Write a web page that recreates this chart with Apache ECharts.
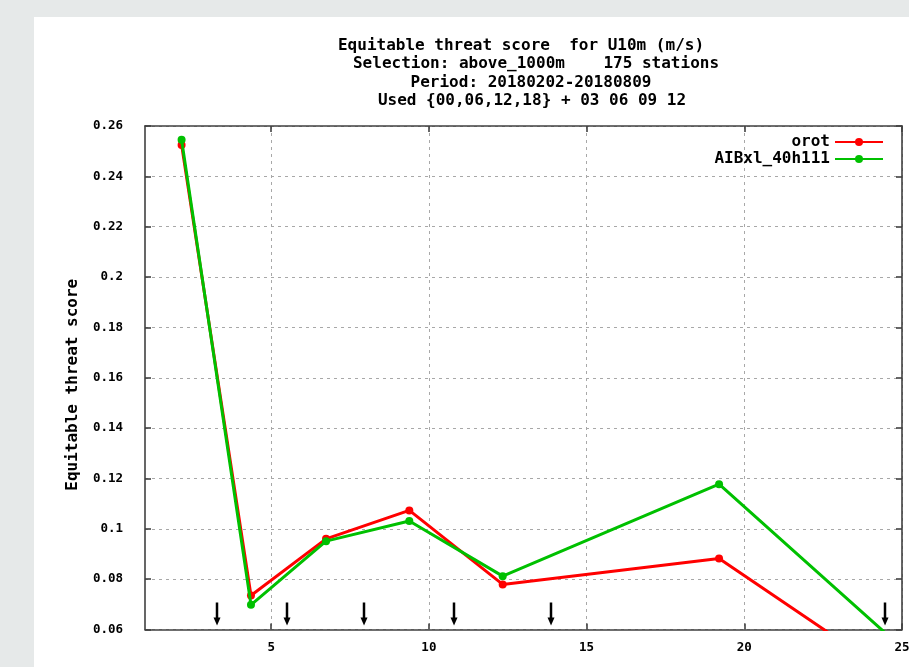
<!DOCTYPE html>
<html>
<head>
<meta charset="utf-8">
<script src="https://cdn.jsdelivr.net/npm/echarts@6/dist/echarts.min.js"></script>
<style>
html,body{margin:0;padding:0;background:#e6e9e9;}
#main{width:909px;height:667px;}
</style>
</head>
<body>
<div id="main"></div>
<script>
// ---- data ----
const titleLines = [
  'Equitable threat score  for U10m (m/s)',
  'Selection: above_1000m    175 stations',
  'Period: 20180202-20180809',
  'Used {00,06,12,18} + 03 06 09 12'
];
const yAxisName = 'Equitable threat score';
const seriesNames = ['orot', 'AIBxl_40h111'];
const xValues = [2.16, 4.36, 6.74, 9.38, 12.34, 19.2, 27];
const orotValues = [0.2525, 0.0735, 0.0960, 0.1073, 0.0779, 0.0882, 0.022];
const aibValues  = [0.2545, 0.0698, 0.0951, 0.1031, 0.0812, 0.1177, 0.0303];
const arrowX = [3.27, 5.49, 7.95, 10.80, 13.87, 24.46];
const xTicks = [5, 10, 15, 20, 25];
const xMin = 1, xMax = 25;
const yMin = 0.06, yMax = 0.26, yStep = 0.02;

// ---- styles ----
const FONT = "'DejaVu Sans Mono', 'Liberation Mono', monospace";
const axisColor = '#404040';
const gridColor = '#a8a8a8';
const colors = ['#ff0000', '#00c000'];
const titleX = [521, 536, 531, 532];
const titleY = [45.5, 64, 82.5, 101];

const chart = echarts.init(document.getElementById('main'), null, {renderer: 'canvas'});

function pairs(xs, ys) { return xs.map((x, i) => [x, ys[i]]); }

const graphicEls = [
  {type: 'rect', shape: {x: 34, y: 17, width: 875, height: 650}, style: {fill: '#ffffff'}, z: -100, silent: true}
];
titleLines.forEach((t, i) => {
  graphicEls.push({
    type: 'text', x: titleX[i], y: titleY[i], silent: true,
    style: {text: t, align: 'center', verticalAlign: 'middle',
            font: 'bold 16px ' + FONT, fill: '#000'}
  });
});

const tickStyle = {color: axisColor, width: 1.6};
const legendText = {fontFamily: FONT, fontWeight: 'bold', fontSize: 16, color: '#000'};
const labelFont = {fontFamily: FONT, fontWeight: 'bold', fontSize: 12.5, color: '#000'};

const option = {
  animation: false,
  backgroundColor: '#e6e9e9',
  graphic: {elements: graphicEls},
  grid: {left: 145, top: 126, right: 7, bottom: 37.5, containLabel: false, outerBoundsMode: 'none'},
  legend: [
    {data: [seriesNames[0]], right: 25, top: 134, orient: 'vertical', align: 'right',
     itemWidth: 48, itemHeight: 10, padding: 0, selectedMode: false, textStyle: legendText},
    {data: [seriesNames[1]], right: 25, top: 151, orient: 'vertical', align: 'right',
     itemWidth: 48, itemHeight: 10, padding: 0, selectedMode: false, textStyle: legendText}
  ],
  xAxis: [
    {
      type: 'value', min: xMin, max: xMax, position: 'bottom',
      axisLine: {show: true, onZero: false, lineStyle: tickStyle},
      axisTick: {show: true, inside: true, length: 6, customValues: xTicks, lineStyle: tickStyle},
      axisLabel: Object.assign({customValues: xTicks, margin: 12, hideOverlap: false}, labelFont),
      splitLine: {show: true, lineStyle: {type: [3, 4], color: gridColor, width: 1}}
    },
    {
      type: 'value', min: xMin, max: xMax, position: 'top',
      axisLine: {show: true, onZero: false, lineStyle: tickStyle},
      axisTick: {show: true, inside: true, length: 6, customValues: xTicks, lineStyle: tickStyle},
      axisLabel: {show: false},
      splitLine: {show: false}
    }
  ],
  yAxis: [
    {
      type: 'value', min: yMin, max: yMax, interval: yStep, position: 'left',
      name: yAxisName, nameLocation: 'middle', nameGap: 64,
      nameTextStyle: {fontFamily: FONT, fontWeight: 'bold', fontSize: 16, color: '#000',
                      padding: [0, 14, 0, 0]},
      axisLine: {show: true, onZero: false, lineStyle: tickStyle},
      axisTick: {show: true, inside: true, length: 6, lineStyle: tickStyle},
      axisLabel: Object.assign({margin: 22, formatter: v => String(+v.toFixed(2))}, labelFont),
      splitLine: {show: true, lineStyle: {type: [3, 4], color: gridColor, width: 1}}
    },
    {
      type: 'value', min: yMin, max: yMax, interval: yStep, position: 'right',
      axisLine: {show: true, onZero: false, lineStyle: tickStyle},
      axisTick: {show: true, inside: true, length: 6, lineStyle: tickStyle},
      axisLabel: {show: false},
      splitLine: {show: false}
    }
  ],
  series: [
    {
      name: seriesNames[0], type: 'line', xAxisIndex: 0, yAxisIndex: 0,
      data: pairs(xValues, orotValues), clip: true,
      symbol: 'circle', symbolSize: 8,
      lineStyle: {color: colors[0], width: 3}, itemStyle: {color: colors[0]}, z: 3
    },
    {
      name: seriesNames[1], type: 'line', xAxisIndex: 0, yAxisIndex: 0,
      data: pairs(xValues, aibValues), clip: true,
      symbol: 'circle', symbolSize: 8,
      lineStyle: {color: colors[1], width: 3}, itemStyle: {color: colors[1]}, z: 4
    },
    {
      name: 'arrows', type: 'custom', xAxisIndex: 0, yAxisIndex: 0, silent: true, z: 5,
      data: arrowX.map(x => [x, yMin]),
      renderItem: function (params, api) {
        const p = api.coord([api.value(0), api.value(1)]);
        const x = Math.round(p[0]), yb = p[1];
        return {
          type: 'group',
          children: [
            {type: 'line', shape: {x1: x, y1: yb - 27, x2: x, y2: yb - 11},
             style: {stroke: '#000', lineWidth: 2.5}},
            {type: 'polygon', shape: {points: [[x - 3.5, yb - 12], [x + 3.5, yb - 12], [x, yb - 4]]},
             style: {fill: '#000'}}
          ]
        };
      }
    }
  ]
};
chart.setOption(option);
</script>
</body>
</html>
